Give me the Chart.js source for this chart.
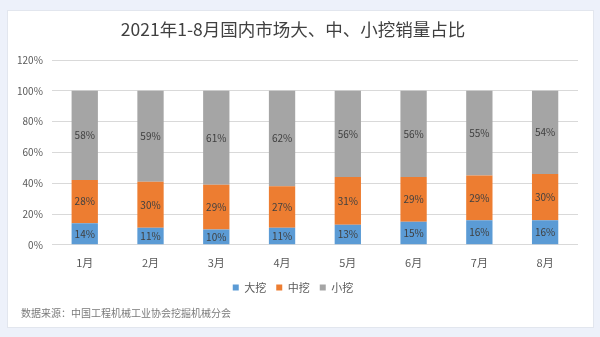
<!DOCTYPE html>
<html>
<head>
<meta charset="utf-8">
<script src="https://cdn.jsdelivr.net/npm/chart.js@4"></script>
<style>
  html, body { margin: 0; padding: 0; }
  body { width: 600px; height: 337px; background: #edf1fa; position: relative; overflow: hidden; }
  #card { position: absolute; left: 7px; top: 10px; width: 585px; height: 316px; background: #fff; border: 1px solid #e2e6ee; }
  #wrap { position: absolute; left: 0; top: 0; width: 585px; height: 316px; }
  #fuente { position: absolute; left: 13px; top: 294px; font: 10px "Noto Sans CJK SC", sans-serif; color: #7a7a7a; }
</style>
</head>
<body>
<div id="card">
  <div id="wrap"><canvas id="grafico"></canvas></div>
  <div id="fuente">数据来源：中国工程机械工业协会挖掘机械分会</div>
</div>
<script>
// Datos
const meses = ["1月", "2月", "3月", "4月", "5月", "6月", "7月", "8月"];
const grandes = [14, 11, 10, 11, 13, 15, 16, 16];
const medianas = [28, 30, 29, 27, 31, 29, 29, 30];
const pequenas = [58, 59, 61, 62, 56, 56, 55, 54];

const fuente = '"Noto Sans CJK SC", "Noto Sans", sans-serif';

// Etiquetas con el porcentaje en el centro de cada segmento
const etiquetasBarras = {
  id: "etiquetasBarras",
  afterDatasetsDraw(chart) {
    const ctx = chart.ctx;
    ctx.save();
    ctx.font = "10px " + fuente;
    ctx.fillStyle = "#404040";
    ctx.textAlign = "center";
    ctx.textBaseline = "middle";
    chart.data.datasets.forEach((ds, i) => {
      const meta = chart.getDatasetMeta(i);
      meta.data.forEach((bar, j) => {
        const { x, y, base } = bar.getProps(["x", "y", "base"], true);
        ctx.fillText(ds.data[j] + "%", x, (y + base) / 2);
      });
    });
    ctx.restore();
  },
};

new Chart(document.getElementById("grafico"), {
  type: "bar",
  data: {
    labels: meses,
    datasets: [
      { label: "大挖", data: grandes, backgroundColor: "#5b9bd5" },
      { label: "中挖", data: medianas, backgroundColor: "#ed7d31" },
      { label: "小挖", data: pequenas, backgroundColor: "#a5a5a5" },
    ],
  },
  options: {
    responsive: true,
    maintainAspectRatio: false,
    animation: false,
    barPercentage: 0.4,
    categoryPercentage: 1,
    layout: { padding: { left: 0, right: 15, bottom: 24 } },
    plugins: {
      title: {
        display: true,
        text: "2021年1-8月国内市场大、中、小挖销量占比",
        color: "#404040",
        font: { family: fuente, size: 17.5, weight: "normal" },
        padding: { top: 8, bottom: 20 },
      },
      legend: {
        position: "bottom",
        labels: {
          color: "#595959",
          font: { family: fuente, size: 11 },
          boxWidth: 6,
          boxHeight: 6,
          padding: 10,
        },
      },
      tooltip: { enabled: false },
    },
    scales: {
      x: {
        stacked: true,
        grid: { display: false },
        border: { display: false },
        ticks: { color: "#595959", font: { family: fuente, size: 11 }, padding: 3 },
      },
      y: {
        stacked: true,
        min: 0,
        max: 120,
        ticks: {
          stepSize: 20,
          color: "#595959",
          font: { family: fuente, size: 10 },
          padding: 9,
          callback: (v) => v + "%",
        },
        grid: { color: "#d9d9d9", drawTicks: false },
        border: { display: false },
      },
    },
  },
  plugins: [etiquetasBarras],
});
</script>
</body>
</html>
